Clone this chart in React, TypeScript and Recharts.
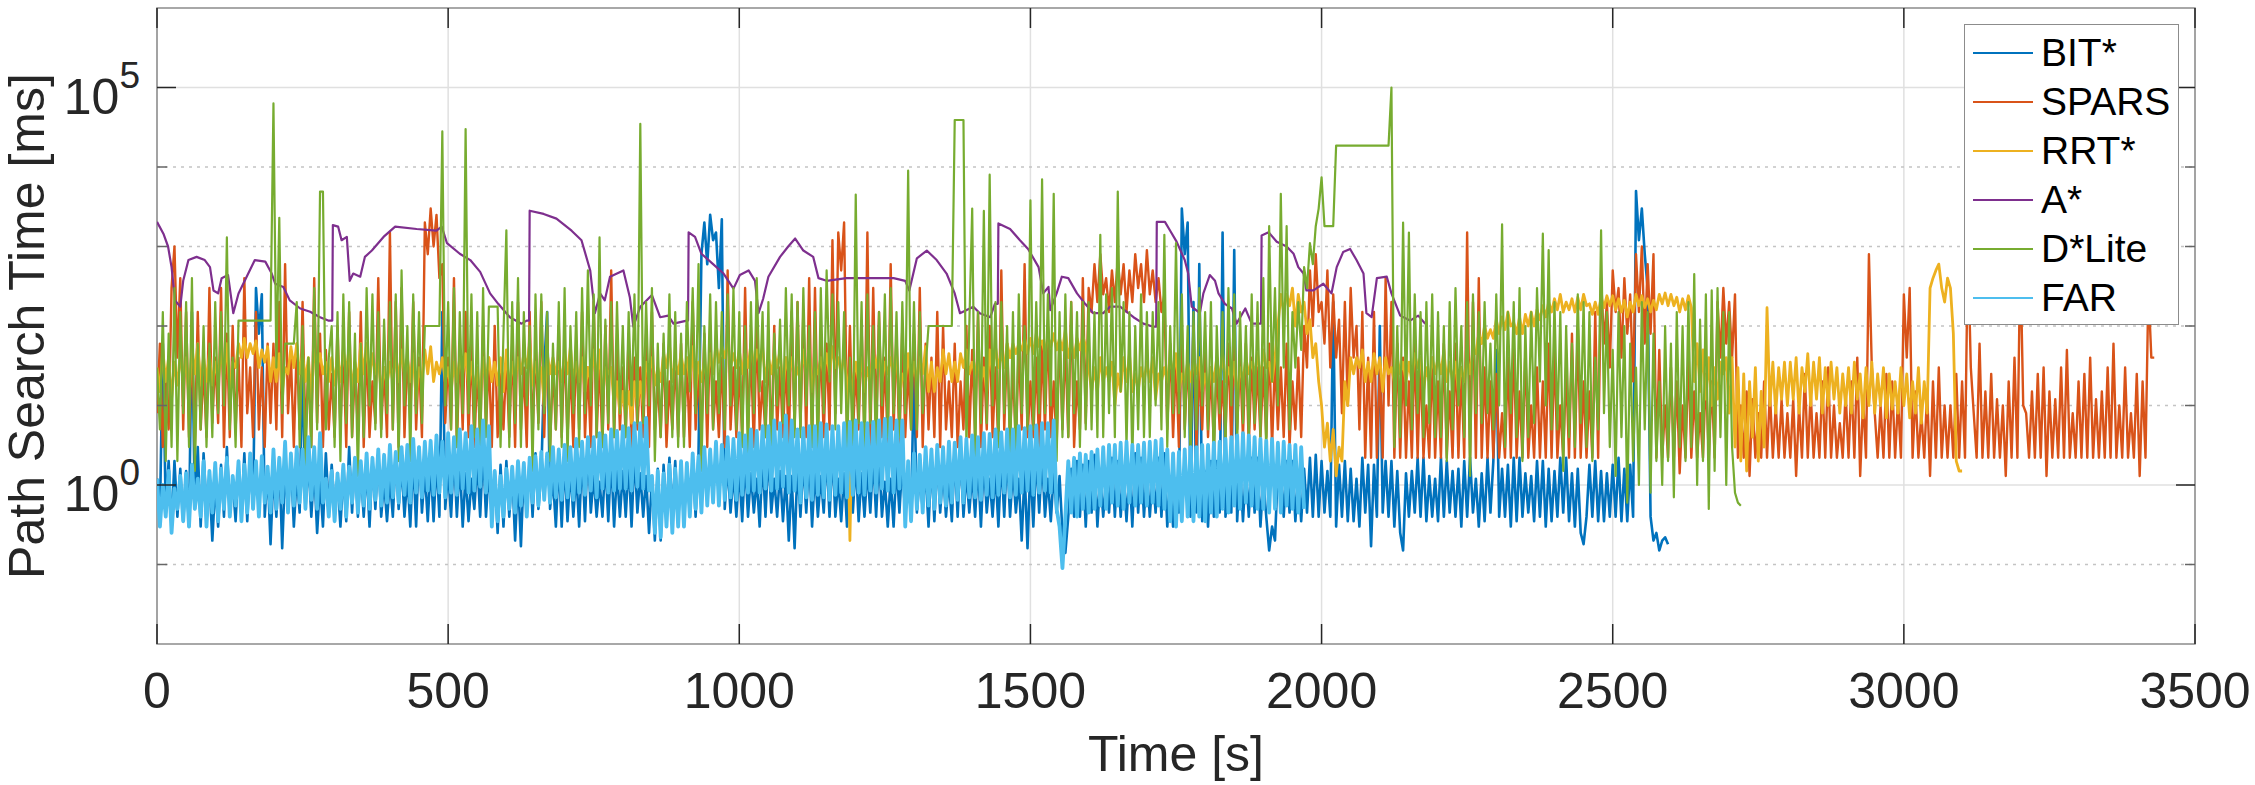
import React from 'react';
import { LineChart, Line, XAxis, YAxis, CartesianGrid, Legend, ReferenceArea, ReferenceLine } from 'recharts';

const FONT = "'Liberation Sans', Arial, Helvetica, sans-serif";
const W = 2255;
const H = 785;
const MARGIN = { top: 8, right: 60, bottom: 0, left: 0 };
const Y_AXIS_W = 157;
const X_AXIS_H = 141;
const PLOT_LEFT = MARGIN.left + Y_AXIS_W;
const PLOT_RIGHT = W - MARGIN.right;
const PLOT_TOP = MARGIN.top;
const PLOT_BOTTOM = H - X_AXIS_H;

// ---- axes ----
const X_TICKS = [0, 500, 1000, 1500, 2000, 2500, 3000, 3500];
const Y_MAJOR_TICKS = [1, 100000];
const Y_MAJOR_EXPONENTS = ['0', '5'];
const Y_MINOR_TICKS = [0.1, 10, 100, 1000, 10000];
const Y_DOMAIN = [0.01, 1000000];
const X_DOMAIN = [0, 3500];

// ---- series (ms), one sample every 5 s from t = 0 ----
const SAMPLE_STEP = 5;

const BIT_VALUES = [
  1.2, 0.4, 60, 0.5, 2, 0.3, 2, 0.4, 1.6, 0.35, 1.5, 0.3, 150, 0.5, 3, 0.3, 2.5, 0.5, 1.2, 0.2,
  1, 0.3, 1.8, 0.4, 3, 0.5, 1.1, 0.35, 1.8, 0.4, 2.5, 0.35, 2.2, 0.5, 300, 80, 250, 0.4, 1.5, 0.18,
  1.4, 0.4, 2.2, 0.16, 1.5, 0.5, 2, 0.3, 1.3, 0.45, 40, 0.5, 2, 0.4, 1.6, 0.25, 1.1, 0.3, 2.5, 0.5,
  1.8, 0.5, 1.2, 0.3, 1.4, 0.35, 3, 0.45, 2.2, 0.4, 1.5, 0.4, 1.6, 0.3, 2, 0.5, 2.4, 0.4, 1.1, 0.35,
  1.2, 0.4, 2.4, 0.5, 1.8, 0.4, 1.3, 0.3, 2.2, 0.3, 3, 0.45, 1.5, 0.35, 1.8, 0.35, 2, 0.4, 150, 0.5,
  1.5, 0.4, 2.5, 0.4, 2, 0.3, 1.4, 0.35, 1.2, 0.5, 2, 0.4, 2.8, 0.4, 1.6, 0.35, 1.5, 0.25, 1.8, 0.3,
  2, 0.4, 1.5, 0.2, 1.3, 0.17, 1.6, 0.45, 2.2, 0.4, 2.5, 0.5, 1.4, 30, 150, 0.5, 1.2, 0.3, 2, 0.3,
  2, 0.35, 1.6, 0.4, 1.4, 0.3, 2.4, 0.35, 3, 0.45, 1.3, 0.4, 1.1, 0.4, 2, 0.35, 2.2, 0.3, 1.5, 0.4,
  1.5, 0.4, 2, 0.3, 2.5, 0.45, 1.4, 0.4, 1.3, 0.25, 1.2, 0.2, 1.6, 0.2, 1.8, 0.4, 2.2, 0.45, 2, 0.35,
  1.5, 0.4, 1.6, 0.45, 2, 0.4, 2.5, 800, 2000, 600, 2500, 1200, 1500, 300, 2200, 0.5, 1.8, 0.45, 1.4, 0.4,
  1.6, 0.35, 2, 0.4, 1.4, 0.45, 1.2, 0.3, 2.2, 0.4, 2.6, 0.45, 1.2, 0.4, 1.5, 0.35, 1.3, 0.2, 1.3, 0.16,
  1.8, 0.4, 2, 0.45, 2.2, 0.3, 1.5, 0.4, 1.3, 0.45, 2.4, 0.4, 2.5, 0.4, 1.2, 0.35, 1.4, 0.3, 2, 0.45,
  2, 0.35, 1.4, 0.4, 1.6, 0.45, 2.2, 0.4, 2.4, 0.4, 1.1, 0.3, 1.2, 0.3, 1.8, 0.45, 2, 0.4, 1.5, 0.4,
  30, 0.45, 1.3, 0.5, 1.5, 0.3, 2, 0.35, 2.2, 0.45, 1.5, 0.4, 1.2, 0.35, 2.4, 0.4, 2.6, 0.4, 1.4, 0.45,
  1.4, 0.4, 1.8, 0.3, 2, 0.45, 1.2, 0.4, 1.5, 0.3, 2.2, 0.4, 2.5, 0.4, 1.6, 0.45, 1.2, 0.2, 1.5, 0.16,
  1.8, 0.3, 2.4, 0.45, 2.2, 0.4, 1.2, 0.35, 1.4, 0.45, 1.3, 0.25, 0.14, 0.4, 1.6, 0.4, 2, 0.4, 1.8, 0.3,
  2, 0.45, 2.4, 0.3, 1.3, 0.4, 1.2, 0.45, 2.2, 0.4, 2, 0.4, 1.4, 0.35, 1.6, 0.3, 2.5, 0.45, 2.2, 0.4,
  1.6, 0.4, 1.4, 0.45, 2.2, 0.4, 2.5, 0.3, 1.1, 0.3, 1.2, 0.45, 3000, 800, 2000, 0.4, 200, 0.45, 600, 0.35,
  1.5, 0.3, 2, 0.4, 2, 0.45, 1500, 0.4, 1.2, 0.45, 900, 0.35, 1.8, 0.35, 1.6, 0.4, 2.2, 0.45, 2.2, 0.3,
  1.2, 0.4, 0.15, 0.3, 0.2, 1.6, 1.4, 0.4, 2, 0.45, 2, 0.35, 1.4, 0.35, 1.6, 0.45, 2.2, 0.4, 2.4, 0.4,
  2, 0.45, 1.5, 0.4, 200, 0.3, 1.8, 0.4, 2, 0.35, 1.6, 0.35, 1.2, 0.3, 2.2, 0.45, 1.8, 0.17, 1.8, 0.4,
  100, 0.45, 2, 0.4, 2, 0.3, 1.5, 0.25, 0.15, 1.4, 0.4, 1.5, 0.45, 2.2, 0.4, 2.2, 0.35, 1.3, 0.4, 1.2,
  0.35, 2.2, 0.4, 2, 0.45, 1.5, 0.4, 1.6, 0.3, 2, 0.4, 2.2, 0.45, 1.2, 0.3, 1.4, 0.35, 2.2, 0.45, 2,
  50, 0.4, 1.6, 0.4, 1.8, 0.3, 2.2, 0.35, 2.2, 0.4, 1.4, 0.45, 1.3, 0.35, 2, 0.4, 2, 0.3, 1.6, 0.35,
  1.5, 0.4, 2.2, 0.45, 2.2, 0.35, 1.4, 0.3, 1.6, 0.25, 0.18, 0.4, 1.8, 0.4, 2, 0.35, 1.5, 0.35, 1.4, 0.4,
  1.8, 0.4, 2.2, 0.35, 1.6, 0.35, 1.8, 0.4, 5000, 1200, 3000, 800, 300, 0.4, 0.2, 0.25, 0.15, 0.2, 0.22, 0.18,
];

const SPARS_VALUES = [
  8, 60, 3, 20, 5, 300, 1000, 40, 400, 5, 150, 4, 60, 3, 150, 5, 30, 4, 300, 6,
  40, 6, 300, 3, 80, 4, 100, 5, 40, 3, 400, 8, 30, 4, 150, 5, 30, 3, 60, 6,
  60, 5, 200, 4, 600, 8, 40, 3, 60, 5, 200, 4, 30, 3, 400, 6, 80, 3, 50, 5,
  25, 4, 100, 5, 60, 3, 150, 4, 30, 5, 150, 3, 60, 4, 20, 6, 400, 5, 30, 4,
  1500, 5, 200, 3, 300, 4, 50, 6, 200, 5, 40, 4, 2000, 800, 3000, 1000, 2500, 400, 600, 6,
  40, 5, 400, 3, 60, 5, 150, 4, 60, 3, 30, 4, 100, 5, 40, 3, 100, 4, 30, 5,
  40, 4, 60, 3, 200, 5, 30, 3, 150, 4, 50, 6, 200, 4, 100, 3, 30, 5, 100, 4,
  60, 4, 30, 3, 60, 5, 150, 4, 30, 3, 200, 4, 40, 3, 100, 5, 500, 4, 60, 5,
  30, 4, 80, 3, 40, 5, 30, 4, 80, 3, 150, 5, 20, 4, 60, 3, 20, 5, 40, 4,
  60, 4, 40, 3, 200, 5, 30, 4, 80, 3, 100, 5, 20, 4, 40, 3, 500, 5, 30, 4,
  30, 4, 300, 5, 50, 3, 100, 5, 20, 4, 60, 3, 100, 5, 30, 4, 40, 3, 150, 5,
  200, 5, 150, 4, 400, 3, 300, 5, 60, 4, 60, 5, 1200, 8, 1500, 500, 2000, 5, 100, 4,
  30, 5, 100, 4, 1500, 3, 300, 5, 150, 4, 40, 3, 600, 5, 80, 3, 100, 4, 30, 5,
  80, 4, 300, 3, 60, 5, 40, 4, 150, 3, 100, 5, 20, 4, 60, 3, 20, 5, 100, 4,
  50, 4, 150, 3, 40, 5, 100, 4, 30, 3, 500, 5, 60, 4, 30, 3, 60, 5, 600, 4,
  20, 4, 40, 3, 60, 5, 100, 4, 20, 3, 80, 5, 60, 4, 200, 3, 20, 5, 400, 6,
  300, 150, 600, 200, 800, 250, 400, 150, 500, 200, 700, 250, 600, 150, 500, 200, 800, 300, 600, 200,
  900, 250, 500, 200, 400, 150, 250, 5, 60, 4, 40, 3, 100, 5, 40, 4, 100, 3, 30, 5,
  60, 4, 30, 3, 30, 5, 20, 4, 60, 3, 100, 5, 40, 4, 60, 3, 40, 5, 30, 4,
  30, 4, 60, 3, 40, 5, 30, 4, 60, 3, 20, 5, 40, 4, 100, 30, 500, 100, 800, 150,
  200, 60, 500, 30, 250, 40, 120, 8, 200, 10, 300, 40, 100, 5, 150, 2.2, 40, 2.2, 150, 2.2,
  30, 2.2, 400, 10, 200, 2.2, 60, 2.2, 40, 2.2, 20, 2.2, 60, 2.2, 40, 2.2, 10, 2.2, 40, 2.2,
  20, 2.2, 60, 2.2, 15, 2.2, 60, 2.2, 30, 2.2, 1500, 2.2, 200, 2.2, 400, 2.2, 30, 2.2, 20, 2.2,
  25, 2.2, 8, 2.2, 40, 2.2, 60, 2.2, 15, 2.2, 50, 2.2, 10, 2.2, 30, 2.2, 20, 2.2, 60, 2.2,
  50, 2.2, 10, 2.2, 30, 2.2, 80, 2.2, 100, 2.2, 20, 2.2, 15, 2.2, 150, 2.2, 400, 60, 200, 30,
  500, 150, 300, 40, 400, 80, 250, 20, 800, 150, 1000, 60, 600, 80, 800, 2.2, 50, 2.2, 10, 2.2,
  30, 2.2, 20, 1.4, 10, 2.2, 40, 2.2, 15, 2.2, 8, 2.2, 25, 2.2, 20, 2.2, 200, 40, 300, 60,
  200, 40, 250, 2.2, 10, 2.2, 15, 1.3, 12, 2.2, 8, 2.2, 20, 2.2, 15, 2.2, 10, 2.2, 12, 2.2,
  8, 2.2, 12, 1.3, 10, 2.2, 25, 2.2, 15, 2.2, 8, 2.2, 20, 2.2, 30, 2.2, 10, 2.2, 6, 2.2,
  15, 2.2, 20, 2.2, 40, 1.3, 12, 2.2, 800, 30, 8, 2.2, 10, 2.2, 25, 2.2, 20, 2.2, 12, 2.2,
  250, 40, 300, 2.2, 15, 2.2, 8, 2.2, 15, 1.3, 20, 2.2, 30, 2.2, 10, 2.2, 10, 2.2, 25, 2.2,
  20, 2.2, 1000, 30, 8, 2.2, 60, 2.2, 15, 2.2, 25, 2.2, 12, 2.2, 10, 1.3, 20, 2.2, 40, 2.2,
  800, 10, 8, 2.2, 15, 2.2, 25, 2.2, 30, 1.3, 15, 2.2, 12, 2.2, 30, 2.2, 50, 2.2, 8, 2.2,
  20, 2.2, 25, 2.2, 40, 2.2, 12, 2.2, 15, 2.2, 30, 2.2, 60, 2.2, 10, 2.2, 30, 2.2, 8, 2.2,
  25, 1.3, 20, 2.2, 300, 40, 40,
];

const RRT_VALUES = [
  30, 15, 50, 20, 40, 12, 35, 18, 45, 20, 40, 12, 55, 25, 60, 18, 40, 20, 45, 18,
  35, 20, 50, 25, 60, 15, 35, 30, 60, 40, 70, 40, 60, 45, 65, 30, 50, 35, 55, 20,
  40, 20, 45, 15, 30, 25, 55, 30, 60, 25, 45, 20, 40, 12, 50, 30, 45, 25, 35, 20,
  40, 18, 45, 20, 50, 25, 55, 15, 35, 20, 60, 25, 60, 20, 45, 25, 40, 14, 30, 18,
  35, 20, 45, 20, 50, 25, 40, 20, 45, 12, 30, 20, 50, 25, 55, 20, 35, 25, 40, 20,
  30, 15, 35, 20, 40, 25, 45, 18, 35, 15, 30, 12, 40, 20, 40, 20, 35, 18, 40, 15,
  50, 15, 35, 20, 40, 25, 45, 30, 60, 18, 35, 20, 30, 10, 45, 25, 40, 25, 35, 20,
  45, 25, 55, 20, 35, 20, 40, 15, 30, 20, 50, 20, 50, 12, 30, 25, 30, 10, 20, 8,
  15, 8, 15, 6, 20, 10, 20, 10, 35, 25, 40, 18, 30, 20, 45, 30, 60, 20, 35, 25,
  45, 25, 40, 20, 55, 15, 35, 20, 35, 20, 45, 25, 60, 35, 55, 40, 65, 30, 45, 30,
  50, 25, 45, 30, 60, 30, 50, 35, 55, 20, 40, 25, 45, 30, 50, 15, 40, 25, 40, 20,
  30, 20, 50, 25, 50, 15, 30, 25, 40, 25, 45, 25, 55, 30, 40, 25, 45, 20, 0.2, 20,
  35, 20, 40, 15, 30, 20, 45, 30, 50, 20, 35, 25, 40, 25, 45, 12, 25, 20, 45, 20,
  35, 20, 40, 25, 55, 15, 35, 15, 30, 20, 50, 25, 45, 20, 35, 20, 45, 30, 50, 25,
  35, 25, 40, 20, 30, 15, 50, 25, 55, 30, 45, 30, 60, 40, 60, 45, 60, 50, 70, 45,
  70, 45, 80, 55, 65, 45, 75, 55, 80, 50, 70, 50, 90, 40, 60, 40, 70, 50, 75, 55,
  30, 15, 30, 15, 40, 20, 30, 20, 35, 10, 25, 15, 40, 20, 45, 15, 25, 15, 30, 20,
  35, 20, 40, 12, 25, 20, 30, 20, 40, 25, 45, 15, 25, 20, 35, 20, 35, 25, 40, 15,
  25, 15, 30, 20, 40, 20, 45, 20, 30, 20, 35, 12, 30, 20, 40, 25, 35, 25, 45, 20,
  50, 30, 35, 20, 40, 100, 250, 150, 250, 180, 300, 100, 250, 150, 200, 80, 120, 40, 60, 20,
  10, 3, 6, 2, 5, 1.3, 3, 2, 20, 10, 40, 25, 40, 30, 50, 20, 35, 20, 45, 25,
  40, 15, 40, 25, 30, 20, 40, 25, 35, 20, 35, 20, 45, 30, 40, 15, 30, 20, 40, 25,
  40, 25, 50, 20, 35, 20, 35, 15, 30, 20, 40, 25, 50, 45, 80, 60, 100, 70, 90, 70,
  120, 80, 130, 90, 150, 100, 110, 80, 130, 80, 140, 100, 150, 100, 160, 120, 180, 130, 200, 150,
  220, 160, 250, 150, 200, 160, 220, 150, 230, 160, 250, 180, 190, 140, 200, 140, 230, 170, 240, 180,
  240, 160, 220, 150, 210, 130, 200, 150, 250, 180, 240, 170, 220, 150, 210, 160, 250, 190, 260, 180,
  250, 180, 230, 150, 220, 160, 240, 170, 20, 60, 15, 50, 12, 40, 10, 30, 12, 35, 25, 40,
  8, 40, 3, 30, 2, 25, 1.5, 20, 4, 30, 2, 15, 3, 170, 10, 35, 8, 30, 12, 35,
  10, 35, 12, 40, 8, 30, 15, 45, 10, 35, 12, 40, 8, 30, 10, 35, 12, 30, 8, 25,
  10, 30, 8, 35, 12, 25, 7, 30, 10, 35, 8, 25, 10, 30, 7, 25, 9, 20, 8, 30,
  10, 25, 7, 20, 8, 30, 6, 20, 8, 300, 400, 500, 600, 300, 200, 400, 300, 80, 2, 1.5,
  1.5,
];

// A*: [time s, ms]
const ASTAR_POINTS: [number, number][] = [
  [0, 2040], [11, 1450], [19, 1000], [25, 550], [31, 210], [40, 175], [45, 370], [54, 675], [68, 740],
  [82, 675], [91, 550], [97, 280], [105, 257], [111, 400], [122, 437], [131, 145], [140, 257], [154, 417],
  [168, 675], [186, 645], [197, 457], [203, 340], [217, 310], [228, 210], [246, 166], [263, 151], [280, 129],
  [294, 117], [301, 117], [302, 1860], [311, 1780], [317, 1200], [326, 1320], [331, 370], [337, 457],
  [349, 417], [357, 740], [369, 890], [389, 1320], [409, 1780], [446, 1660], [480, 1580], [489, 1780],
  [498, 1100], [520, 810], [538, 675], [555, 480], [572, 257], [586, 190], [606, 129], [626, 107],
  [635, 117], [639, 117], [640, 2820], [664, 2570], [686, 2240], [712, 1580], [729, 1200], [744, 500],
  [752, 145], [761, 257], [769, 210], [778, 417], [801, 500], [812, 230], [818, 98], [830, 175], [850, 245],
  [864, 129], [878, 135], [887, 107], [910, 117], [912, 117], [913, 1510], [924, 1320], [935, 810],
  [955, 600], [973, 457], [990, 295], [1001, 437], [1016, 500], [1027, 370], [1033, 145], [1041, 220],
  [1050, 417], [1070, 740], [1084, 1000], [1096, 1260], [1110, 890], [1127, 740], [1136, 400], [1150, 370],
  [1184, 400], [1219, 400], [1265, 400], [1285, 370], [1292, 280], [1305, 710], [1322, 890], [1339, 675],
  [1356, 457], [1370, 257], [1379, 145], [1402, 175], [1413, 145], [1431, 129], [1439, 190], [1444, 190],
  [1445, 1950], [1465, 1660], [1482, 1200], [1496, 930], [1514, 550], [1522, 257], [1531, 310], [1534, 158],
  [1545, 257], [1554, 417], [1565, 400], [1580, 257], [1594, 190], [1608, 145], [1625, 145], [1637, 175],
  [1654, 175], [1677, 129], [1694, 107], [1711, 98], [1716, 98], [1717, 2040], [1731, 2040], [1740, 1580],
  [1751, 1150], [1765, 675], [1771, 457], [1777, 175], [1791, 145], [1797, 257], [1808, 437], [1817, 370],
  [1823, 257], [1834, 190], [1846, 166], [1854, 107], [1869, 166], [1880, 107], [1891, 107], [1896, 107],
  [1897, 1380], [1909, 1510], [1923, 1150], [1940, 1000], [1952, 810], [1960, 550], [1969, 457], [1974, 280],
  [1986, 280], [2003, 340], [2017, 257], [2026, 550], [2037, 850], [2049, 930], [2060, 675], [2072, 457],
  [2077, 145], [2086, 129], [2095, 400], [2112, 417], [2120, 257], [2135, 135], [2152, 117], [2166, 135],
  [2178, 107],
];

const DLITE_VALUES = [
  30, 5, 150, 2, 80, 3, 300, 2, 150, 8, 200, 3, 400, 1.5, 60, 5, 100, 3, 60, 4,
  200, 8, 150, 10, 1300, 5, 40, 3, 117, 117, 117, 117, 117, 117, 117, 117, 117, 117, 117, 117,
  63000, 30, 2300, 8, 60, 60, 60, 60, 200, 3, 100, 1.5, 40, 3, 300, 5, 4900, 4900, 5, 40,
  100, 3, 150, 2, 250, 6, 200, 4, 80, 1.3, 60, 4, 300, 10, 250, 5, 150, 4, 120, 8,
  200, 5, 250, 2, 500, 10, 100, 2, 250, 8, 150, 6, 100, 100, 100, 100, 100, 100, 28000, 10,
  200, 5, 300, 3, 150, 8, 30000, 8, 250, 4, 150, 2, 300, 4, 175, 175, 175, 175, 3, 80,
  1600, 3, 200, 6, 400, 3, 150, 10, 100, 1.5, 250, 5, 250, 8, 150, 2, 60, 5, 200, 3,
  300, 2, 100, 8, 150, 3, 300, 8, 500, 10, 250, 4, 1300, 3, 120, 6, 200, 4, 200, 8,
  100, 4, 150, 10, 250, 6, 35000, 6, 200, 10, 300, 2, 60, 4, 80, 6, 250, 4, 150, 3,
  80, 3, 200, 15, 300, 8, 600, 1.5, 100, 8, 250, 5, 200, 8, 150, 5, 250, 10, 300, 5,
  150, 3, 100, 2, 200, 8, 400, 15, 150, 4, 200, 1.3, 80, 10, 120, 6, 300, 10, 250, 4,
  200, 4, 300, 10, 100, 3, 150, 2, 300, 8, 500, 20, 250, 5, 200, 8, 150, 3, 40, 3,
  4500, 6, 200, 2, 250, 6, 100, 2, 150, 10, 250, 4, 300, 8, 150, 4, 200, 8, 9000, 5,
  200, 5, 150, 8, 30, 100, 100, 100, 100, 100, 100, 100, 100, 100, 39000, 39000, 39000, 39000, 3, 100,
  3000, 2, 150, 6, 2800, 6, 8000, 10, 200, 3, 200, 8, 100, 2, 150, 1.5, 250, 8, 100, 5,
  3800, 5, 200, 8, 7000, 8, 250, 10, 4600, 2, 150, 4, 250, 4, 200, 8, 150, 3, 200, 5,
  200, 5, 150, 4, 1400, 4, 250, 8, 300, 4, 4900, 15, 200, 3, 150, 2, 100, 5, 250, 4,
  150, 4, 150, 10, 200, 5, 1400, 3, 100, 8, 1100, 8, 250, 4, 100, 2, 150, 5, 300, 10,
  150, 5, 200, 1.5, 100, 8, 150, 3, 300, 10, 250, 3, 150, 6, 100, 4, 250, 6, 200, 4,
  400, 2, 1800, 20, 300, 10, 4600, 30, 1800, 5, 150, 30, 200, 50, 550, 300, 1100, 600, 1800, 3000,
  7400, 1800, 1800, 1800, 1800, 18600, 18600, 18600, 18600, 18600, 18600, 18600, 18600, 18600, 18600, 18600, 18600, 18600, 18600, 18600,
  18600, 18600, 18600, 18600, 100000, 3, 100, 4, 2000, 10, 1500, 5, 250, 8, 150, 4, 200, 6, 250, 4,
  150, 4, 100, 2, 200, 5, 300, 10, 100, 4, 200, 1.3, 250, 8, 150, 6, 200, 8, 60, 5,
  250, 10, 1900, 3, 150, 8, 200, 4, 300, 2, 100, 4, 150, 6, 300, 20, 1450, 10, 900, 5,
  200, 5, 150, 1.5, 100, 4, 60, 3, 250, 6, 200, 3, 150, 2, 40, 5, 1600, 8, 150, 3,
  50, 1.3, 150, 4, 100, 0.6, 60, 2, 30, 1, 200, 5, 150, 0.8, 80, 2, 20, 1, 100, 2,
  60, 0.7, 150, 3, 100, 2, 200, 3, 450, 1, 120, 2, 250, 0.5, 280, 1.5, 300, 4, 150, 1,
  150, 3, 0.8, 0.6, 0.55,
];

const FAR_VALUES = [
  1.2, 0.3, 1.0, 0.4, 1.5, 0.25, 0.9, 0.5, 1.3, 0.35, 1.4, 0.3, 1.8, 0.5, 1.2, 0.4, 2, 0.3, 1.5, 0.45,
  1.9, 0.35, 1.6, 0.5, 2.2, 0.4, 1.3, 0.55, 2, 0.35, 1.8, 0.45, 2.5, 0.5, 2, 0.4, 2.3, 0.6, 1.7, 0.45,
  2.8, 0.5, 2.2, 0.6, 3.5, 0.45, 2.5, 0.55, 3, 0.6, 2.8, 0.5, 4, 0.65, 3, 0.5, 4.5, 0.6, 1.2, 0.4,
  1.5, 0.35, 1.4, 0.5, 1.8, 0.4, 1.7, 0.6, 2.2, 0.45, 2, 0.55, 2.5, 0.5, 2.2, 0.65, 2.8, 0.55, 2.4, 0.6,
  3.2, 0.7, 2.6, 0.6, 3, 0.75, 3.2, 0.6, 3.8, 0.8, 3, 0.7, 3.5, 0.85, 3.6, 0.75, 4.2, 0.8, 3.5, 0.7,
  4.5, 0.8, 4, 0.75, 5, 0.9, 4.5, 0.8, 5.5, 0.85, 5, 0.95, 6.5, 0.8, 5.5, 0.3, 1.5, 0.35, 1.3, 0.4,
  1.6, 0.5, 1.7, 0.45, 2, 0.55, 1.9, 0.4, 2.2, 0.6, 2.3, 0.55, 2.6, 0.65, 2.5, 0.6, 3, 0.7, 2.8, 0.65,
  3.2, 0.7, 3, 0.65, 3.8, 0.8, 3.5, 0.75, 4, 0.85, 4, 0.7, 4.5, 0.9, 4.2, 0.8, 5, 0.85, 4.8, 0.9,
  5.5, 0.9, 5.2, 0.85, 6, 0.95, 6, 0.9, 7, 0.85, 1.3, 0.25, 1.5, 0.22, 1.4, 0.3, 1.8, 0.25, 1.6, 0.3,
  2, 0.3, 1.9, 0.4, 2.5, 0.5, 2.3, 0.45, 3, 0.55, 2.8, 0.6, 3.5, 0.55, 3.2, 0.65, 4, 0.7, 3.8, 0.65,
  4.5, 0.75, 4.2, 0.8, 5, 0.85, 4.8, 0.8, 5.5, 0.9, 5.5, 0.85, 6.5, 0.9, 6, 0.95, 7.5, 0.8, 6.5, 0.85,
  5, 0.6, 5.2, 0.7, 5.5, 0.65, 5.5, 0.75, 6, 0.7, 5.8, 0.65, 5.5, 0.75, 5.5, 0.8, 6, 0.7, 6.2, 0.75,
  6.5, 0.8, 6, 0.75, 6, 0.85, 6.2, 0.8, 6.5, 0.9, 6.8, 0.85, 7, 0.8, 6.5, 0.9, 6.5, 0.3, 2, 0.35,
  2.5, 0.5, 2.4, 0.45, 3, 0.55, 2.8, 0.5, 3.2, 0.6, 3, 0.55, 3.5, 0.6, 3.4, 0.65, 4, 0.6, 3.8, 0.7,
  4.2, 0.7, 4, 0.65, 4.5, 0.75, 4.4, 0.7, 5, 0.75, 4.6, 0.8, 5, 0.7, 5, 0.75, 5.5, 0.8, 5.2, 0.85,
  5.5, 0.75, 5.6, 0.8, 6, 0.85, 6, 0.8, 6.5, 0.5, 0.3, 0.09, 0.4, 2, 0.45, 2.2, 0.4, 2.5, 0.5, 2.4,
  0.45, 2.6, 0.5, 2.8, 0.55, 3, 0.5, 3.2, 0.6, 3.2, 0.55, 3.4, 0.5, 3.5, 0.6, 3.2, 0.55, 3.2, 0.6, 3.4,
  0.55, 3.5, 0.6, 3.6, 0.55, 3.8, 0.5, 2.8, 0.35, 2.5, 0.3, 2.6, 0.35, 2.8, 0.4, 3, 0.35, 3, 0.4, 3.2,
  0.35, 3.2, 0.45, 3.4, 0.4, 3.5, 0.5, 3.8, 0.45, 4, 0.55, 4.2, 0.5, 4.5, 0.6, 4.2, 0.55, 4, 0.5, 3.8,
  0.5, 3.6, 0.45, 3.8, 0.5, 3.4, 0.45, 3.5, 0.55, 3.2, 0.5, 3.2, 0.45, 3, 0.5,
];

const SERIES_NAMES = ['BIT*', 'SPARS', 'RRT*', 'A*', 'D*Lite', 'FAR'];
const SERIES_COLORS = ['#0072BD', '#D95319', '#EDB120', '#7E2F8E', '#77AC30', '#4DBEEE'];

const uniform = (values: number[]) => values.map((v, i) => ({ t: i * SAMPLE_STEP, v }));
const pairs = (pts: [number, number][]) => pts.map(([t, v]) => ({ t, v }));

const SERIES_DATA = [
  uniform(BIT_VALUES),
  uniform(SPARS_VALUES),
  uniform(RRT_VALUES),
  pairs(ASTAR_POINTS),
  uniform(DLITE_VALUES),
  uniform(FAR_VALUES),
];
const SERIES_WIDTH = [2.6, 2.4, 2.8, 2.2, 2.2, 3.8];

const AXIS_COLOR = '#262626';

const XTick = (props: any) => {
  const { x, y, payload } = props;
  return (
    <g>
      <line x1={x} x2={x} y1={y} y2={y - 20} stroke={AXIS_COLOR} strokeWidth={1.5} />
      <line x1={x} x2={x} y1={PLOT_TOP} y2={PLOT_TOP + 20} stroke={AXIS_COLOR} strokeWidth={1.5} />
      <text x={x} y={y + 64} textAnchor="middle" fontFamily={FONT} fontSize={50} fill={AXIS_COLOR}>
        {payload.value}
      </text>
    </g>
  );
};

const YTick = (props: any) => {
  const { x, y, payload } = props;
  const idx = Y_MAJOR_TICKS.indexOf(payload.value);
  const major = idx >= 0;
  const len = major ? 19 : 10;
  const col = major ? AXIS_COLOR : '#666';
  return (
    <g>
      <line x1={x} x2={x + len} y1={y} y2={y} stroke={col} strokeWidth={1.5} />
      <line x1={PLOT_RIGHT - len} x2={PLOT_RIGHT} y1={y} y2={y} stroke={col} strokeWidth={1.5} />
      {major && (
        <text x={x - 17} y={y + 26} textAnchor="end" fontFamily={FONT} fill={AXIS_COLOR}>
          <tspan fontSize={50}>10</tspan>
          <tspan fontSize={37} dy={-26}>{Y_MAJOR_EXPONENTS[idx]}</tspan>
        </text>
      )}
    </g>
  );
};

const renderLegend = () => (
  <div
    style={{
      boxSizing: 'border-box',
      width: 215,
      height: 301,
      border: '1.5px solid #8c8c8c',
      background: '#fff',
      position: 'relative',
      fontFamily: FONT,
    }}
  >
    {SERIES_NAMES.map((name, i) => (
      <div
        key={name}
        style={{
          position: 'absolute',
          left: 8,
          top: 28 + i * 49 - 25,
          height: 50,
          display: 'flex',
          alignItems: 'center',
          whiteSpace: 'nowrap',
        }}
      >
        <div style={{ width: 60, height: 2.5, background: SERIES_COLORS[i] }} />
        <span style={{ marginLeft: 8, fontSize: 39, color: '#000', lineHeight: '50px' }}>{name}</span>
      </div>
    ))}
  </div>
);

const xLabel = () => (
  <text x={(PLOT_LEFT + PLOT_RIGHT) / 2} y={771} textAnchor="middle" fontFamily={FONT} fontSize={50} fill={AXIS_COLOR}>
    Time [s]
  </text>
);

const yLabel = () => {
  const cy = (PLOT_TOP + PLOT_BOTTOM) / 2;
  return (
    <text
      x={44}
      y={cy}
      transform={`rotate(-90, 44, ${cy})`}
      textAnchor="middle"
      fontFamily={FONT}
      fontSize={50}
      fill={AXIS_COLOR}
    >
      Path Search Time [ms]
    </text>
  );
};

export default function App() {
  return (
    <div style={{ position: 'absolute', left: 0, top: 0, width: W, height: H, background: '#fff' }}>
      <LineChart width={W} height={H} margin={MARGIN}>
        <CartesianGrid horizontal={false} vertical={true} stroke="#e0e0e0" strokeWidth={1.5} />
        {Y_MINOR_TICKS.map((v) => (
          <ReferenceLine key={`mn${v}`} y={v} stroke="#c4c4c4" strokeWidth={1.5} strokeDasharray="3 5" zIndex={-50} />
        ))}
        {Y_MAJOR_TICKS.map((v) => (
          <ReferenceLine key={`mj${v}`} y={v} stroke="#e0e0e0" strokeWidth={1.5} zIndex={-50} />
        ))}
        <XAxis
          type="number"
          dataKey="t"
          domain={X_DOMAIN}
          ticks={X_TICKS}
          interval={0}
          allowDataOverflow
          axisLine={false}
          tickLine={false}
          tickSize={0}
          tickMargin={0}
          height={X_AXIS_H}
          tick={<XTick />}
          label={{ content: xLabel }}
        />
        <YAxis
          type="number"
          scale="log"
          domain={Y_DOMAIN}
          ticks={[...Y_MINOR_TICKS, ...Y_MAJOR_TICKS].sort((a, b) => a - b)}
          interval={0}
          allowDataOverflow
          axisLine={false}
          tickLine={false}
          tickSize={0}
          tickMargin={0}
          width={Y_AXIS_W}
          tick={<YTick />}
          label={{ content: yLabel }}
        />
        {SERIES_NAMES.map((name, i) => (
          <Line
            key={name}
            name={name}
            data={SERIES_DATA[i]}
            dataKey="v"
            type="linear"
            stroke={SERIES_COLORS[i]}
            strokeWidth={SERIES_WIDTH[i]}
            strokeLinejoin="round"
            dot={false}
            activeDot={false}
            isAnimationActive={false}
          />
        ))}
        <ReferenceArea
          x1={X_DOMAIN[0]}
          x2={X_DOMAIN[1]}
          y1={Y_DOMAIN[0]}
          y2={Y_DOMAIN[1]}
          fill="none"
          fillOpacity={0}
          stroke="#8c8c8c"
          strokeWidth={1.5}
          ifOverflow="visible"
        />
        <Legend
          layout="vertical"
          align="center"
          verticalAlign="middle"
          content={renderLegend}
          wrapperStyle={{ left: 1964, top: 24, width: 215, height: 301 }}
        />
      </LineChart>
    </div>
  );
}
